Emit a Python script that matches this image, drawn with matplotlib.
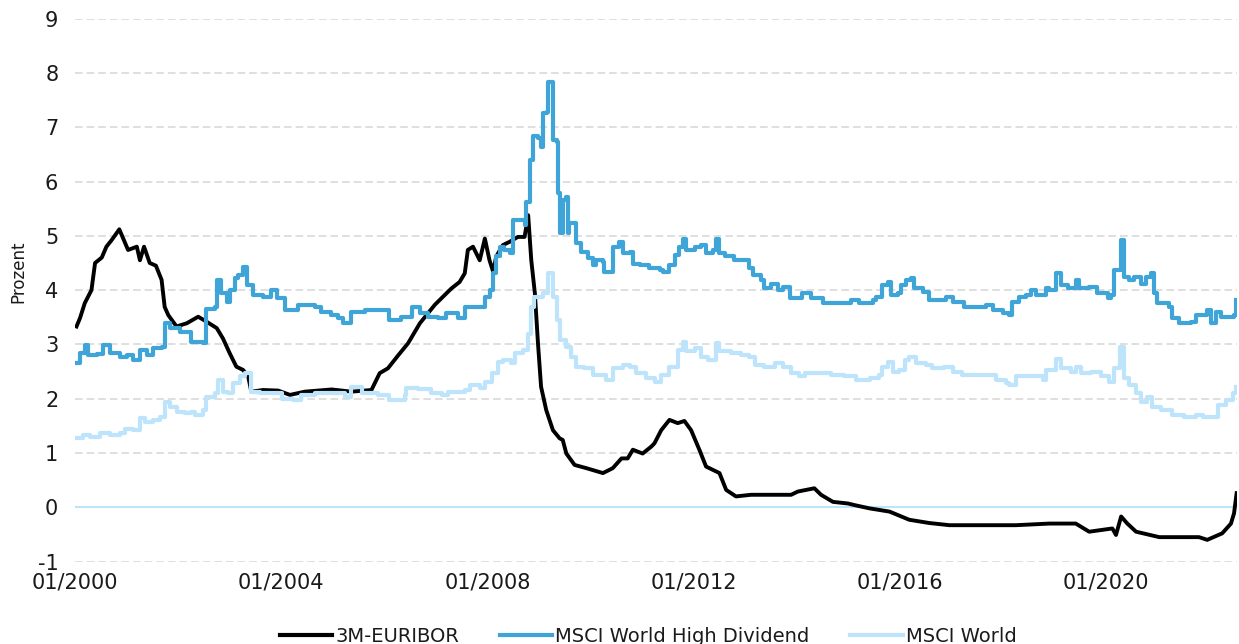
import matplotlib
matplotlib.use("Agg")
import matplotlib.pyplot as plt
from matplotlib.lines import Line2D

# ---------------- data (decimal years, percent) ----------------
euribor_t = [2000.03, 2000.10, 2000.19, 2000.32, 2000.39, 2000.52, 2000.61, 2000.71, 2000.86,
             2001.03, 2001.20, 2001.26, 2001.34, 2001.45, 2001.57, 2001.68, 2001.74, 2001.81, 2001.97,
             2002.17, 2002.39, 2002.55, 2002.75, 2002.87, 2003.00, 2003.13, 2003.26, 2003.36, 2003.42,
             2003.65, 2003.94, 2004.17, 2004.46, 2004.98, 2005.36, 2005.75, 2005.91, 2006.07, 2006.27,
             2006.46, 2006.69, 2006.98, 2007.30, 2007.46, 2007.56, 2007.62, 2007.72, 2007.85, 2007.95,
             2008.04, 2008.11, 2008.17, 2008.30, 2008.43, 2008.59, 2008.72, 2008.79, 2008.85, 2008.92,
             2008.98, 2009.04, 2009.14, 2009.27, 2009.40, 2009.46, 2009.53, 2009.69, 2009.92, 2010.24,
             2010.43, 2010.60, 2010.72, 2010.82, 2011.01, 2011.18, 2011.24, 2011.37, 2011.53, 2011.69,
             2011.82, 2011.95, 2012.11, 2012.24, 2012.50, 2012.63, 2012.82, 2013.11, 2013.50, 2013.89,
             2014.02, 2014.34, 2014.47, 2014.70, 2014.99, 2015.12, 2015.41, 2015.80, 2016.18, 2016.57,
             2016.96, 2017.60, 2018.25, 2018.90, 2019.41, 2019.67, 2020.12, 2020.19, 2020.29, 2020.41,
             2020.58, 2021.03, 2021.80, 2021.96, 2022.25, 2022.42, 2022.48, 2022.53]
euribor_v = [3.33, 3.49, 3.76, 4.00, 4.50, 4.60, 4.80, 4.92, 5.12,
             4.74, 4.80, 4.55, 4.80, 4.50, 4.45, 4.19, 3.69, 3.54, 3.33,
             3.39, 3.51, 3.42, 3.30, 3.11, 2.84, 2.59, 2.53, 2.41, 2.13,
             2.16, 2.15, 2.07, 2.13, 2.17, 2.13, 2.16, 2.47, 2.56, 2.80,
             3.02, 3.39, 3.73, 4.03, 4.15, 4.31, 4.74, 4.80, 4.55, 4.95,
             4.55, 4.34, 4.62, 4.83, 4.89, 4.98, 4.98, 5.38, 4.55, 3.94,
             3.02, 2.22, 1.79, 1.42, 1.27, 1.24, 0.99, 0.78, 0.72, 0.63,
             0.72, 0.90, 0.90, 1.06, 0.99, 1.12, 1.18, 1.42, 1.61, 1.55,
             1.59, 1.42, 1.06, 0.75, 0.63, 0.32, 0.20, 0.23, 0.23, 0.23,
             0.29, 0.35, 0.23, 0.10, 0.07, 0.04, -0.02, -0.08, -0.23, -0.29,
             -0.33, -0.33, -0.33, -0.30, -0.30, -0.45, -0.39, -0.51, -0.17, -0.30,
             -0.45, -0.55, -0.55, -0.60, -0.48, -0.30, -0.11, 0.26]

hd_t = [2000.03, 2000.10, 2000.19, 2000.26, 2000.42, 2000.55, 2000.68, 2000.87, 2001.00, 2001.13,
        2001.26, 2001.39, 2001.52, 2001.68, 2001.74, 2001.84, 2002.03, 2002.16, 2002.26, 2002.49,
        2002.55, 2002.71, 2002.75, 2002.84, 2002.94, 2003.00, 2003.10, 2003.16, 2003.26, 2003.33,
        2003.46, 2003.65, 2003.81, 2003.92, 2004.07, 2004.23, 2004.33, 2004.52, 2004.65, 2004.78,
        2004.97, 2005.10, 2005.20, 2005.36, 2005.62, 2005.88, 2006.10, 2006.33, 2006.53, 2006.69,
        2006.85, 2007.04, 2007.20, 2007.43, 2007.56, 2007.91, 2007.95, 2008.04, 2008.11, 2008.17,
        2008.24, 2008.33, 2008.43, 2008.49, 2008.66, 2008.72, 2008.75, 2008.82, 2008.88, 2008.98,
        2009.04, 2009.08, 2009.15, 2009.17, 2009.24, 2009.27, 2009.34, 2009.37, 2009.40, 2009.46,
        2009.53, 2009.56, 2009.59, 2009.69, 2009.72, 2009.82, 2009.92, 2009.95, 2010.04, 2010.11,
        2010.24, 2010.26, 2010.40, 2010.43, 2010.55, 2010.63, 2010.76, 2010.82, 2010.95, 2011.14,
        2011.34, 2011.40, 2011.53, 2011.63, 2011.72, 2011.79, 2011.85, 2012.02, 2012.14, 2012.24,
        2012.37, 2012.44, 2012.50, 2012.60, 2012.79, 2012.92, 2013.08, 2013.15, 2013.31, 2013.37,
        2013.50, 2013.63, 2013.73, 2013.86, 2014.02, 2014.11, 2014.28, 2014.50, 2014.76, 2014.96,
        2015.05, 2015.21, 2015.47, 2015.54, 2015.66, 2015.76, 2015.83, 2015.96, 2016.02, 2016.12,
        2016.21, 2016.28, 2016.44, 2016.57, 2016.76, 2016.89, 2017.02, 2017.25, 2017.47, 2017.67,
        2017.80, 2017.99, 2018.12, 2018.18, 2018.31, 2018.44, 2018.54, 2018.64, 2018.77, 2018.83,
        2018.90, 2019.02, 2019.12, 2019.25, 2019.41, 2019.48, 2019.67, 2019.83, 2020.03, 2020.09,
        2020.16, 2020.25, 2020.28, 2020.33, 2020.35, 2020.45, 2020.54, 2020.67, 2020.77, 2020.87,
        2020.93, 2020.99, 2021.22, 2021.28, 2021.41, 2021.64, 2021.74, 2021.87, 2021.96, 2022.03,
        2022.13, 2022.22, 2022.47, 2022.51]
hd_v = [2.65, 2.84, 2.99, 2.80, 2.82, 2.99, 2.84, 2.77, 2.80, 2.71,
        2.90, 2.80, 2.93, 2.96, 3.39, 3.30, 3.23, 3.23, 3.05, 3.02,
        3.66, 3.69, 4.19, 3.94, 3.79, 4.00, 4.22, 4.28, 4.43, 4.09,
        3.91, 3.88, 4.00, 3.85, 3.63, 3.63, 3.73, 3.73, 3.69, 3.60,
        3.54, 3.48, 3.39, 3.60, 3.63, 3.63, 3.45, 3.51, 3.69, 3.57,
        3.51, 3.48, 3.57, 3.48, 3.69, 3.69, 3.88, 4.00, 4.31, 4.62,
        4.80, 4.74, 4.68, 5.29, 5.29, 5.20, 5.63, 6.40, 6.83, 6.80,
        6.64, 7.26, 7.29, 7.84, 7.84, 6.76, 6.73, 5.78, 5.05, 5.66,
        5.72, 5.05, 5.23, 5.23, 4.86, 4.71, 4.71, 4.59, 4.46, 4.55,
        4.52, 4.34, 4.34, 4.80, 4.89, 4.68, 4.71, 4.49, 4.46, 4.40,
        4.37, 4.34, 4.46, 4.65, 4.80, 4.95, 4.74, 4.80, 4.83, 4.68,
        4.74, 4.95, 4.68, 4.62, 4.55, 4.55, 4.40, 4.28, 4.19, 4.03,
        4.12, 4.00, 4.06, 3.85, 3.85, 3.94, 3.85, 3.76, 3.76, 3.76,
        3.82, 3.76, 3.82, 3.88, 4.09, 4.15, 3.91, 3.94, 4.09, 4.19,
        4.22, 4.03, 3.97, 3.82, 3.82, 3.88, 3.79, 3.69, 3.69, 3.73,
        3.63, 3.58, 3.54, 3.79, 3.88, 3.91, 4.00, 3.91, 3.91, 4.03,
        4.00, 4.31, 4.09, 4.03, 4.19, 4.03, 4.06, 3.94, 3.85, 3.91,
        4.37, 4.37, 4.92, 4.92, 4.25, 4.19, 4.25, 4.12, 4.25, 4.31,
        3.94, 3.76, 3.69, 3.48, 3.39, 3.42, 3.54, 3.54, 3.63, 3.39,
        3.60, 3.51, 3.54, 3.82]

world_t = [2000.03, 2000.16, 2000.29, 2000.48, 2000.68, 2000.87, 2000.97, 2001.13, 2001.26, 2001.36,
           2001.52, 2001.65, 2001.74, 2001.84, 2001.97, 2002.13, 2002.26, 2002.33, 2002.49, 2002.55,
           2002.71, 2002.78, 2002.87, 2002.97, 2003.07, 2003.20, 2003.29, 2003.42, 2003.59, 2003.78,
           2004.01, 2004.23, 2004.39, 2004.65, 2004.97, 2005.23, 2005.36, 2005.56, 2005.88, 2006.10,
           2006.40, 2006.43, 2006.65, 2006.91, 2007.11, 2007.23, 2007.56, 2007.66, 2007.85, 2007.95,
           2008.08, 2008.20, 2008.30, 2008.46, 2008.53, 2008.69, 2008.79, 2008.85, 2008.91, 2009.08,
           2009.17, 2009.24, 2009.27, 2009.34, 2009.40, 2009.53, 2009.63, 2009.72, 2009.88, 2010.04,
           2010.21, 2010.30, 2010.43, 2010.63, 2010.76, 2010.89, 2011.08, 2011.24, 2011.37, 2011.53,
           2011.69, 2011.79, 2011.85, 2012.02, 2012.14, 2012.27, 2012.44, 2012.50, 2012.73, 2012.92,
           2013.08, 2013.18, 2013.37, 2013.57, 2013.73, 2013.89, 2014.05, 2014.15, 2014.41, 2014.66,
           2014.92, 2015.15, 2015.41, 2015.60, 2015.66, 2015.76, 2015.86, 2015.99, 2016.09, 2016.18,
           2016.31, 2016.51, 2016.63, 2016.86, 2017.02, 2017.21, 2017.67, 2017.86, 2018.06, 2018.12,
           2018.25, 2018.51, 2018.77, 2018.83, 2019.02, 2019.12, 2019.32, 2019.41, 2019.51, 2019.70,
           2019.90, 2020.06, 2020.16, 2020.27, 2020.33, 2020.35, 2020.45, 2020.58, 2020.67, 2020.80,
           2020.89, 2021.06, 2021.28, 2021.51, 2021.74, 2021.87, 2022.06, 2022.16, 2022.32, 2022.45,
           2022.51]
world_v = [1.27, 1.33, 1.29, 1.36, 1.33, 1.36, 1.45, 1.42, 1.64, 1.58,
           1.61, 1.67, 1.94, 1.85, 1.76, 1.73, 1.76, 1.70, 1.79, 2.04,
           2.10, 2.34, 2.13, 2.10, 2.28, 2.41, 2.47, 2.13, 2.10, 2.10,
           1.99, 1.98, 2.07, 2.11, 2.10, 2.04, 2.22, 2.11, 2.07, 1.98,
           2.07, 2.19, 2.17, 2.10, 2.07, 2.13, 2.16, 2.25, 2.19, 2.31,
           2.47, 2.68, 2.71, 2.65, 2.84, 2.90, 3.20, 3.69, 3.88, 3.94,
           4.31, 4.31, 3.88, 3.45, 3.08, 2.96, 2.77, 2.59, 2.56, 2.44,
           2.44, 2.34, 2.56, 2.62, 2.59, 2.47, 2.38, 2.31, 2.44, 2.59,
           2.90, 3.05, 2.87, 2.93, 2.77, 2.71, 3.02, 2.87, 2.84, 2.80,
           2.77, 2.62, 2.59, 2.65, 2.59, 2.47, 2.41, 2.47, 2.48, 2.44,
           2.41, 2.34, 2.38, 2.44, 2.59, 2.68, 2.50, 2.53, 2.71, 2.77,
           2.65, 2.62, 2.56, 2.59, 2.50, 2.44, 2.44, 2.34, 2.28, 2.25,
           2.41, 2.41, 2.34, 2.53, 2.74, 2.56, 2.50, 2.59, 2.47, 2.50,
           2.41, 2.31, 2.56, 2.96, 2.96, 2.38, 2.25, 2.10, 1.94, 2.04,
           1.85, 1.79, 1.70, 1.66, 1.70, 1.66, 1.67, 1.88, 1.98, 2.10,
           2.22]

series_names = ["3M-EURIBOR", "MSCI World High Dividend", "MSCI World"]
tick_years = [2000, 2004, 2008, 2012, 2016, 2020]
tick_labels = ["01/2000", "01/2004", "01/2008", "01/2012", "01/2016", "01/2020"]
y_ticks = [-1, 0, 1, 2, 3, 4, 5, 6, 7, 8, 9]

# ---------------- style ----------------
plt.rcParams["font.family"] = ["DejaVu Sans"]
plt.rcParams["axes.unicode_minus"] = False
C_BLACK = "#000000"
C_HD = "#3FA4D7"
C_WORLD = "#BDE4FA"
C_GRID = "#D6D6D6"
C_TEXT = "#1A1A1A"

fig = plt.figure(figsize=(12.39, 6.44), dpi=100)
ax = fig.add_axes([0.0605, 0.128, 0.938, 0.843])

ax.set_xlim(2000.0, 2022.54)
ax.set_ylim(-1, 9)

# grid
for yv in y_ticks:
    if yv == 0:
        continue
    ax.axhline(yv, color=C_GRID, lw=1.1, linestyle=(0, (5, 2.6)), zorder=1)
ax.axhline(0, color=C_WORLD, lw=1.5, zorder=1.5)

ax.plot(euribor_t, euribor_v, color=C_BLACK, lw=2.8, zorder=3, solid_joinstyle="round")
ax.plot(hd_t, hd_v, color=C_HD, lw=3.0, drawstyle="steps-post", zorder=3.2)
ax.plot(world_t, world_v, color=C_WORLD, lw=3.0, drawstyle="steps-post", zorder=3.4)

ax.set_xticks(tick_years)
ax.set_xticklabels(tick_labels)
ax.set_yticks(y_ticks)
ax.tick_params(axis="both", length=0, labelsize=15, colors=C_TEXT)
ax.tick_params(axis="y", pad=12)
ax.tick_params(axis="x", pad=8)
for s in ax.spines.values():
    s.set_visible(False)

ax.set_ylabel("Prozent", fontsize=12, color=C_TEXT)
ax.yaxis.set_label_coords(-0.041, 0.533)

handles = [Line2D([], [], color=C_BLACK, lw=3),
           Line2D([], [], color=C_HD, lw=3),
           Line2D([], [], color=C_WORLD, lw=3)]
fig.legend(handles, series_names, loc="center", bbox_to_anchor=(0.523, 0.012),
           ncol=3, frameon=False, fontsize=14, handlelength=2.7, handletextpad=0.15,
           columnspacing=2.1, labelcolor=C_TEXT)

fig.savefig("out.png", dpi=100)
